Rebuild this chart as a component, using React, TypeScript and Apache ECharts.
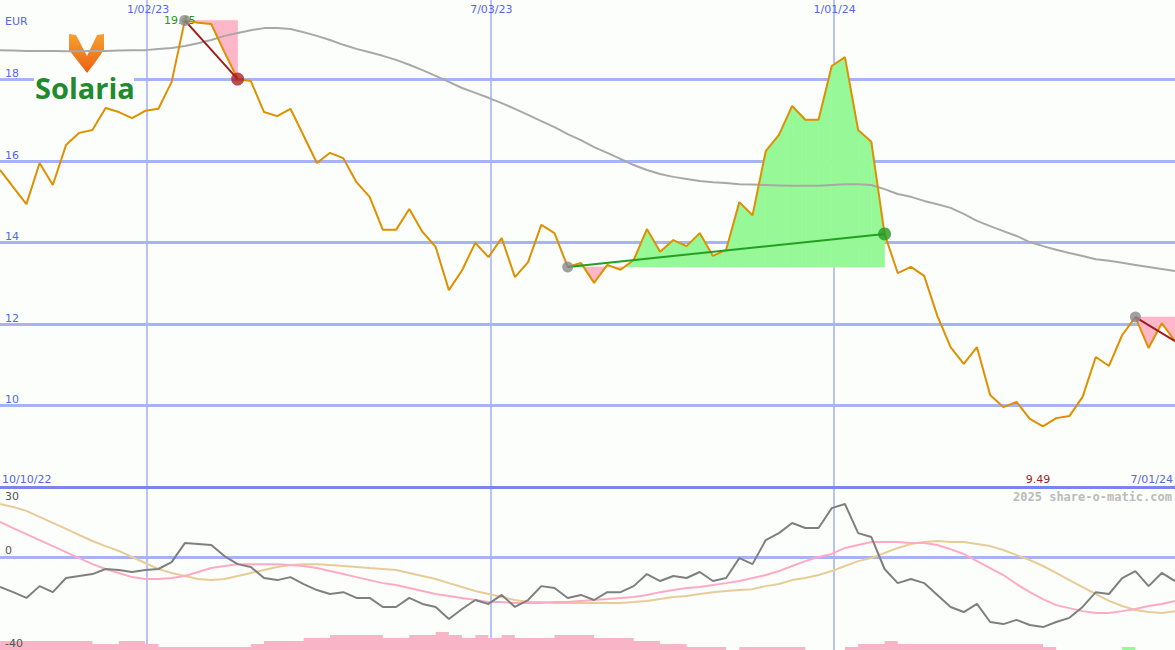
import React, { useEffect, useRef } from 'react';
import * as echarts from 'echarts';

// ---------- data ----------
const startDate = Date.UTC(2022, 9, 16); // first weekly point
const firstDateLabel = '10/10/22';
const lastDateLabel = '7/01/24';
const currency = 'EUR';
const company = 'Solaria';
const copyright = '2025 share-o-matic.com';

const dateLines = [Date.UTC(2023, 0, 2), Date.UTC(2023, 6, 3), Date.UTC(2024, 0, 1)];
const dateLabels = ['1/02/23', '7/03/23', '1/01/24'];

const priceTicks = [10, 12, 14, 16, 18];
const oscTicks = [30, 0, -40];

const price = [
  15.78, 15.36, 14.94, 15.95, 15.41, 16.39, 16.69, 16.76, 17.30, 17.20,
  17.05, 17.23, 17.28, 17.94, 19.45, 19.39, 19.36, 18.67, 18.01, 17.96,
  17.20, 17.10, 17.28, 16.62, 15.95, 16.20, 16.07, 15.48, 15.12, 14.31,
  14.31, 14.82, 14.26, 13.89, 12.83, 13.32, 13.99, 13.64, 14.11, 13.15,
  13.52, 14.43, 14.23, 13.40, 13.50, 13.01, 13.45, 13.33, 13.57, 14.33,
  13.77, 14.06, 13.91, 14.23, 13.67, 13.82, 14.99, 14.67, 16.24, 16.64,
  17.35, 17.01, 17.01, 18.33, 18.55, 16.76, 16.47, 14.21, 13.25, 13.40,
  13.18, 12.20, 11.43, 11.02, 11.43, 10.26, 9.96, 10.09, 9.67, 9.49,
  9.69, 9.74, 10.21, 11.19, 10.97, 11.73, 12.17, 11.41, 12.02, 11.58,
];

const movingAvg = [
  18.72, 18.71, 18.70, 18.70, 18.70, 18.69, 18.69, 18.70, 18.70, 18.71,
  18.72, 18.72, 18.75, 18.77, 18.82, 18.89, 18.97, 19.07, 19.14, 19.21,
  19.26, 19.26, 19.24, 19.16, 19.07, 18.97, 18.85, 18.75, 18.67, 18.58,
  18.48, 18.36, 18.23, 18.09, 17.94, 17.79, 17.67, 17.55, 17.42, 17.28,
  17.13, 16.98, 16.83, 16.66, 16.51, 16.34, 16.20, 16.05, 15.90, 15.78,
  15.68, 15.61, 15.56, 15.51, 15.48, 15.46, 15.43, 15.42, 15.41, 15.40,
  15.39, 15.39, 15.39, 15.41, 15.43, 15.43, 15.41, 15.31, 15.19, 15.12,
  15.02, 14.94, 14.85, 14.70, 14.53, 14.40, 14.28, 14.16, 14.01, 13.91,
  13.82, 13.74, 13.67, 13.59, 13.55, 13.50, 13.45, 13.40, 13.35, 13.30,
];

const oscillator = [
  -12.8, -15.0, -17.5, -12.4, -15.0, -8.9, -8.0, -7.2, -5.0, -5.4,
  -6.3, -5.4, -5.0, -2.0, 6.2, 5.8, 5.4, 0.6, -2.9, -4.1,
  -8.9, -9.8, -8.5, -11.5, -14.1, -15.8, -15.0, -17.5, -17.5, -21.4,
  -21.4, -17.5, -20.1, -21.4, -26.6, -22.3, -18.4, -20.1, -16.2, -21.4,
  -18.4, -12.4, -13.2, -17.5, -16.2, -18.4, -15.0, -15.0, -12.4, -7.2,
  -10.2, -8.0, -8.9, -6.3, -10.2, -8.9, -0.3, -2.9, 7.5, 10.5,
  14.9, 12.7, 12.7, 21.3, 23.1, 10.5, 8.8, -5.0, -11.1, -9.3,
  -11.1, -16.2, -21.4, -23.6, -20.1, -27.9, -28.8, -27.0, -29.2, -30.1,
  -27.9, -26.1, -21.4, -15.0, -15.8, -8.9, -5.9, -12.4, -6.7, -10.2,
];

const signalFast = [
  15.3, 12.7, 10.1, 7.5, 4.9, 2.3, -0.3, -2.9, -5.0, -6.7,
  -8.5, -9.3, -9.3, -8.9, -8.0, -6.3, -4.6, -3.7, -2.9, -2.9,
  -2.9, -2.9, -3.3, -3.7, -4.6, -5.9, -7.2, -8.5, -9.8, -11.1,
  -11.9, -13.2, -14.5, -15.8, -16.7, -17.5, -18.4, -19.3, -19.3, -19.7,
  -19.7, -19.7, -19.3, -19.3, -18.8, -18.4, -18.0, -17.5, -17.1, -16.2,
  -15.0, -14.1, -13.2, -12.8, -11.9, -11.1, -10.2, -8.9, -7.6, -5.9,
  -3.7, -1.6, 0.2, 1.5, 4.1, 5.4, 6.7, 6.7, 6.7, 6.2,
  6.2, 5.4, 3.6, 1.5, -1.6, -4.6, -7.6, -11.5, -15.0, -18.0,
  -20.6, -21.9, -23.2, -24.0, -24.0, -23.2, -22.3, -21.0, -20.1, -18.8,
];

const signalSlow = [
  23.1, 21.8, 20.1, 17.5, 14.9, 12.3, 9.7, 7.1, 4.9, 2.8,
  0.2, -2.4, -5.0, -6.7, -8.0, -9.3, -9.8, -9.3, -8.0, -6.7,
  -5.4, -4.1, -3.3, -2.9, -2.9, -3.3, -3.7, -4.1, -4.6, -5.0,
  -5.4, -6.7, -8.0, -9.3, -11.1, -12.8, -14.5, -15.8, -17.1, -18.4,
  -19.3, -19.3, -19.7, -19.7, -19.7, -19.7, -19.7, -19.7, -19.3, -18.8,
  -18.0, -17.1, -16.7, -15.8, -15.0, -14.5, -14.1, -13.7, -12.4, -11.5,
  -9.8, -8.9, -7.6, -5.9, -3.7, -1.6, -0.3, 1.9, 4.1, 5.8,
  6.7, 7.1, 6.7, 6.7, 5.8, 4.9, 3.2, 1.0, -1.1, -3.7,
  -6.7, -9.8, -12.8, -15.8, -18.8, -21.0, -22.7, -23.6, -24.0, -23.2,
];

const downVolume = [
  3, 3, 3, 3, 3, 3, 3, 2, 2, 3,
  3, 2, 1, 1, 1, 1, 1, 1, 1, 2,
  3, 3, 3, 4, 4, 5, 5, 5, 5, 4,
  4, 5, 5, 6, 5, 4, 5, 4, 5, 4,
  4, 4, 5, 5, 5, 4, 4, 4, 3, 3,
  2, 2, 1, 1, 1, 0, 1, 1, 1, 1,
  1, 0, 0, 0, 1, 2, 2, 3, 2, 2,
  2, 2, 2, 2, 2, 2, 2, 2, 2, 1,
  0, 0, 0, 0, 0, 0, 0, 0, 0, 0,
];

const upVolume = [
  0, 0, 0, 0, 0, 0, 0, 0, 0, 0,
  0, 0, 0, 0, 0, 0, 0, 0, 0, 0,
  0, 0, 0, 0, 0, 0, 0, 0, 0, 0,
  0, 0, 0, 0, 0, 0, 0, 0, 0, 0,
  0, 0, 0, 0, 0, 0, 0, 0, 0, 0,
  0, 0, 0, 0, 0, 0, 0, 0, 0, 0,
  0, 0, 0, 0, 0, 0, 0, 0, 0, 0,
  0, 0, 0, 0, 0, 0, 0, 0, 0, 0,
  0, 0, 0, 0, 0, 1, 0, 0, 0, 0,
];

// trades: indices of entry / exit weeks
const trades = [
  { entry: 14, exit: 18, open: false },
  { entry: 43, exit: 67, open: false },
  { entry: 86, exit: 89, open: true },
];

// ---------- styles ----------
const FONT = 'DejaVu Sans';
const BLUE = '#5566ee';
const GRID_BLUE = '#a6b4f6';
const GREEN_FILL = '#96f896';
const PINK_FILL = '#ffb6c8';
const BG = '#fcfefc';

export default function App() {
  const ref = useRef<HTMLDivElement>(null);

  useEffect(() => {
    const el = ref.current!;
    const chart = echarts.init(el, null, { renderer: 'svg' });
    const DAY = 86400000;
    const N = price.length;
    const xs = price.map((_, i) => startDate + i * 7 * DAY);
    const pair = (arr: number[]) => arr.map((v, i) => [xs[i], v]);

    const fillItems: number[][] = [];
    trades.forEach((tr) => {
      const e = price[tr.entry];
      for (let k = tr.entry; k < tr.exit; k++) {
        fillItems.push([xs[k], price[k], xs[k + 1], price[k + 1], e]);
      }
    });

    const renderFill = (_params: any, api: any) => {
      const x0 = api.value(0), p0 = api.value(1), x1 = api.value(2), p1 = api.value(3), e = api.value(4);
      const poly = (pts: number[][], color: string) => ({
        type: 'polygon',
        shape: { points: pts.map((p) => api.coord(p)) },
        style: { fill: color, stroke: color, lineWidth: 0.6 },
      });
      const d0 = p0 - e, d1 = p1 - e;
      const children: any[] = [];
      if (d0 * d1 >= 0) {
        const c = d0 + d1 >= 0 ? GREEN_FILL : PINK_FILL;
        children.push(poly([[x0, e], [x0, p0], [x1, p1], [x1, e]], c));
      } else {
        const t = d0 / (d0 - d1);
        const xc = x0 + t * (x1 - x0);
        children.push(poly([[x0, e], [x0, p0], [xc, e]], d0 >= 0 ? GREEN_FILL : PINK_FILL));
        children.push(poly([[xc, e], [x1, p1], [x1, e]], d1 >= 0 ? GREEN_FILL : PINK_FILL));
      }
      return { type: 'group', children };
    };

    const tradeColor = (tr: any) => (price[tr.exit] >= price[tr.entry] ? '#22a022' : '#a01c1c');
    const exitColor = (tr: any) => (price[tr.exit] >= price[tr.entry] ? '#229a22' : '#aa2020');
    const gridLineStyle = (w: number) => ({ color: GRID_BLUE, width: w, type: 'solid' });

    const option: any = {
      animation: false,
      backgroundColor: BG,
      grid: [
        { left: 0, right: 0, top: 0, height: 487 },
        { left: 0, right: 0, top: 488, height: 162 },
      ],
      xAxis: [
        {
          type: 'time', gridIndex: 0, min: xs[0], max: xs[N - 1],
          axisLine: { show: true, onZero: false, lineStyle: { color: '#7886ee', width: 3 } },
          axisTick: { show: false }, axisLabel: { show: false }, splitLine: { show: false },
        },
        {
          type: 'time', gridIndex: 1, min: xs[0], max: xs[N - 1],
          axisLine: { show: false }, axisTick: { show: false }, axisLabel: { show: false }, splitLine: { show: false },
        },
      ],
      yAxis: [
        {
          type: 'value', gridIndex: 0, min: 8, max: 19.95, interval: 2,
          axisLine: { show: false }, axisTick: { show: false }, splitLine: { show: false },
          axisLabel: {
            inside: true, margin: 5, verticalAlign: 'bottom', color: BLUE, fontSize: 11, fontFamily: FONT,
            formatter: (v: number) => (priceTicks.includes(v) ? String(v) : ''),
          },
        },
        { type: 'value', gridIndex: 1, min: -40, max: 30, interval: 10, show: false },
        { type: 'value', gridIndex: 1, min: 0, max: 54, show: false },
      ],
      series: [
        {
          type: 'line', name: 'gridMain', xAxisIndex: 0, yAxisIndex: 0, z: 0, silent: true, data: [],
          markLine: {
            silent: true, symbol: ['none', 'none'], label: { show: false }, animation: false, z: 0,
            data: [
              ...priceTicks.map((v) => ({ yAxis: v, lineStyle: gridLineStyle(3) })),
              ...dateLines.map((d) => ({ xAxis: d, lineStyle: gridLineStyle(1.6) })),
            ],
          },
        },
        {
          type: 'line', name: 'gridLower', xAxisIndex: 1, yAxisIndex: 1, z: 0, silent: true, data: [],
          markLine: {
            silent: true, symbol: ['none', 'none'], label: { show: false }, animation: false, z: 0,
            data: [
              { yAxis: 0, lineStyle: gridLineStyle(3) },
              ...dateLines.map((d) => ({ xAxis: d, lineStyle: gridLineStyle(1.6) })),
            ],
          },
        },
        {
          type: 'custom', name: 'tradeFill', xAxisIndex: 0, yAxisIndex: 0, z: 1, silent: true,
          data: fillItems, encode: { x: [0, 2], y: [1, 3, 4] }, renderItem: renderFill,
        },
        {
          type: 'line', name: 'ma', xAxisIndex: 0, yAxisIndex: 0, z: 2, data: pair(movingAvg),
          symbol: 'none', lineStyle: { color: '#a8a8a8', width: 2 }, silent: true,
        },
        {
          type: 'line', name: 'price', xAxisIndex: 0, yAxisIndex: 0, z: 3, data: pair(price),
          symbol: 'none', lineStyle: { color: '#de9000', width: 2 }, silent: true,
        },
        ...trades.map((tr) => ({
          type: 'line', xAxisIndex: 0, yAxisIndex: 0, z: 4, silent: true, symbol: 'none',
          data: [[xs[tr.entry], price[tr.entry]], [xs[tr.exit], price[tr.exit]]],
          lineStyle: { color: tradeColor(tr), width: 2 },
        })),
        {
          type: 'scatter', xAxisIndex: 0, yAxisIndex: 0, z: 5, silent: true, symbolSize: 11,
          itemStyle: { color: '#888888' },
          data: trades.map((tr) => [xs[tr.entry], price[tr.entry]]),
        },
        {
          type: 'scatter', xAxisIndex: 0, yAxisIndex: 0, z: 5, silent: true, symbolSize: 13,
          data: trades.filter((tr) => !tr.open).map((tr) => ({
            value: [xs[tr.exit], price[tr.exit]], itemStyle: { color: exitColor(tr) },
          })),
        },
        {
          type: 'line', name: 'downVolume', xAxisIndex: 1, yAxisIndex: 2, z: 1, step: 'end', silent: true,
          data: pair(downVolume), symbol: 'none', lineStyle: { width: 0 },
          areaStyle: { color: '#fab4c8', opacity: 1, origin: 'start' },
        },
        {
          type: 'line', name: 'upVolume', xAxisIndex: 1, yAxisIndex: 2, z: 1, step: 'end', silent: true,
          data: pair(upVolume), symbol: 'none', lineStyle: { width: 0 },
          areaStyle: { color: '#98f898', opacity: 1, origin: 'start' },
        },
        {
          type: 'line', name: 'slow', xAxisIndex: 1, yAxisIndex: 1, z: 2, silent: true,
          data: pair(signalSlow), symbol: 'none', lineStyle: { color: '#e8cc98', width: 2 },
        },
        {
          type: 'line', name: 'fast', xAxisIndex: 1, yAxisIndex: 1, z: 3, silent: true,
          data: pair(signalFast), symbol: 'none', lineStyle: { color: '#ffaac4', width: 2 },
        },
        {
          type: 'line', name: 'osc', xAxisIndex: 1, yAxisIndex: 1, z: 4, silent: true,
          data: pair(oscillator), symbol: 'none', lineStyle: { color: '#7f7f7f', width: 2 },
        },
      ],
    };
    chart.setOption(option);

    const px = (d: number) => chart.convertToPixel({ xAxisIndex: 0 }, d) as number;
    const py0 = (v: number) => chart.convertToPixel({ yAxisIndex: 0 }, v) as number;
    const py1 = (v: number) => chart.convertToPixel({ yAxisIndex: 1 }, v) as number;
    const txt = (text: string, x: number, y: number, fill: string, align: string, font: string, z = 1) => ({
      type: 'text', z, silent: true,
      style: { text, x, y, fill, font, align, textAlign: align, verticalAlign: 'middle', textVerticalAlign: 'middle' },
    });
    const maxIdx = price.indexOf(Math.max(...price));
    const minIdx = price.indexOf(Math.min(...price));
    const bottomY = py0(8);
    const logoGrad = {
      type: 'linear', x: 0, y: 0, x2: 0, y2: 1,
      colorStops: [{ offset: 0, color: '#f7a030' }, { offset: 1, color: '#ec6010' }],
    };
    const elements: any[] = [
      { type: 'rect', z: 1, silent: true, shape: { x: 34, y: 31, width: 100, height: 70 }, style: { fill: BG } },
      { type: 'polygon', z: 1, silent: true, shape: { points: [[69, 34], [76, 35], [87, 56], [87, 73], [80, 64], [69, 50]] }, style: { fill: logoGrad } },
      { type: 'polygon', z: 1, silent: true, shape: { points: [[104, 34], [97, 35], [87, 56], [87, 73], [94, 64], [104, 50]] }, style: { fill: logoGrad } },
      txt(company, 35, 87, '#1f8a2e', 'left', 'bold 29px "Open Sans"'),
      txt(currency, 5, 21, BLUE, 'left', `11px "${FONT}"`),
      ...dateLines.map((d, i) => txt(dateLabels[i], px(d) + 1, 9, BLUE, 'center', `11px "${FONT}"`)),
      txt(firstDateLabel, 2, bottomY - 8, BLUE, 'left', `11px "${FONT}"`),
      txt(lastDateLabel, 1173, bottomY - 8, BLUE, 'right', `11px "${FONT}"`),
      txt(price[minIdx].toFixed(2), px(xs[minIdx]) - 5, bottomY - 8, '#a01c1c', 'center', `11px "${FONT}"`),
      txt(price[maxIdx].toFixed(2), px(xs[maxIdx]) - 5, py0(price[maxIdx]), '#229922', 'center', `11px "${FONT}"`),
      txt(copyright, 1172, 497, '#bbbbbb', 'right', `bold 12px "DejaVu Sans Mono"`, 10),
      ...oscTicks.map((v) => {
        const y = py1(v);
        const yy = v === oscTicks[0] ? y + 8 : y - 7;
        return txt(String(v), 5, yy, '#555555', 'left', `11px "${FONT}"`, 10);
      }),
    ];
    chart.setOption({ graphic: { elements } });

    return () => chart.dispose();
  }, []);

  return <div ref={ref} style={{ position: 'absolute', left: 0, top: 0, width: 1175, height: 650 }} />;
}
